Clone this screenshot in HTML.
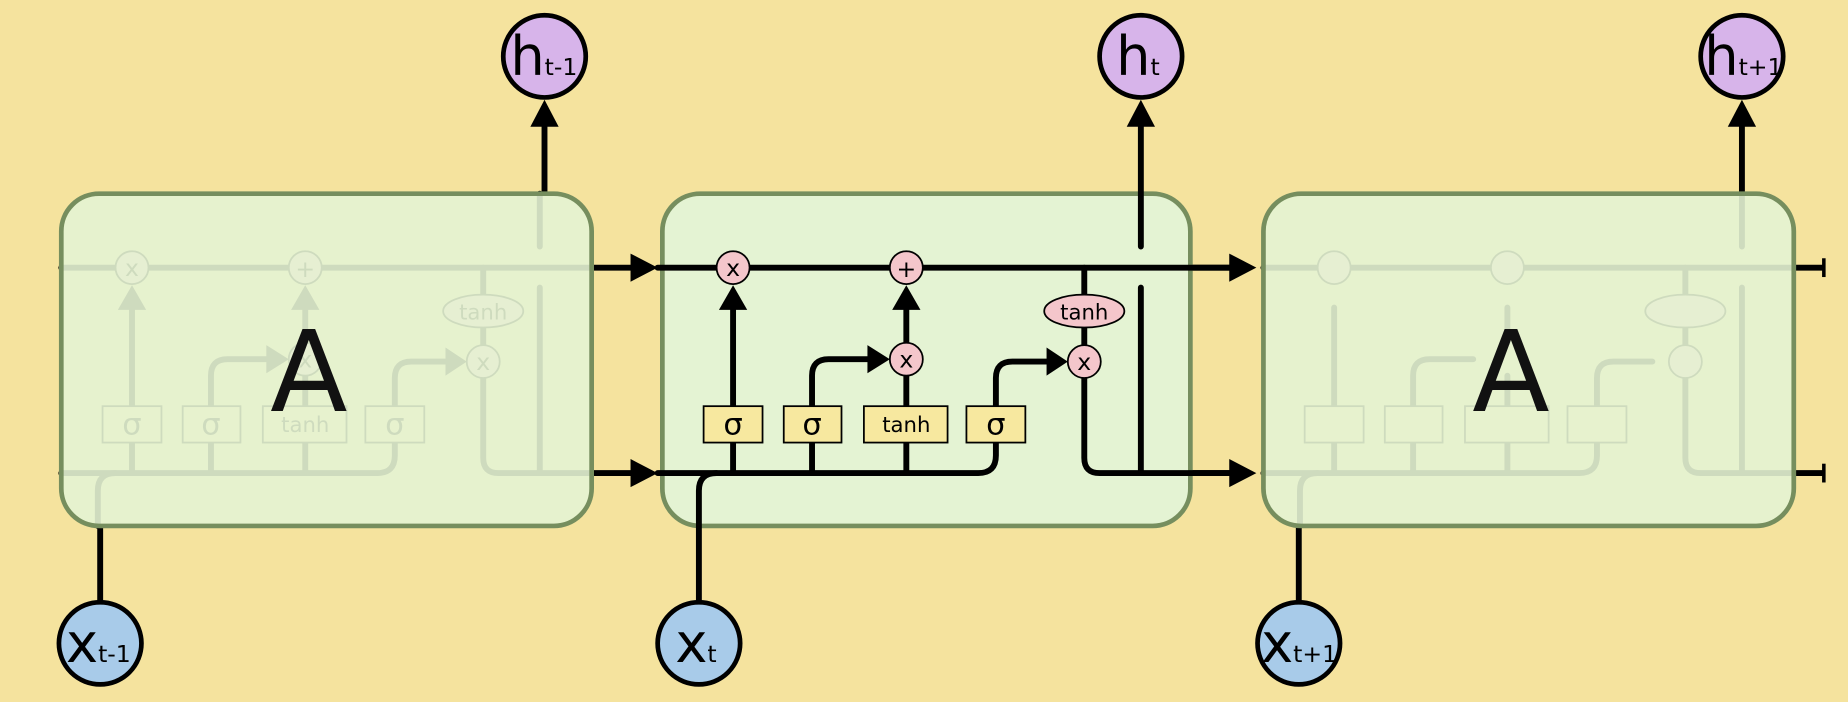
<!DOCTYPE html>
<html><head><meta charset="utf-8"><style>
html,body{margin:0;padding:0;background:#f5e39e;}
svg{display:block;}
text{font-family:"DejaVu Sans","Liberation Sans",sans-serif;}
</style></head><body>
<svg width="1848" height="702" viewBox="0 0 1568 598" preserveAspectRatio="none" xmlns="http://www.w3.org/2000/svg">
<rect x="0" y="0" width="1568" height="598" fill="#f5e39e"/>

<!-- main black lines between cells -->
<g stroke="#000" stroke-width="5" fill="none">
  <line x1="502" y1="228" x2="540" y2="228"/>
  <line x1="502" y1="403" x2="540" y2="403"/>
  <line x1="1010" y1="228" x2="1048" y2="228"/>
  <line x1="1010" y1="403" x2="1048" y2="403"/>
  <line x1="1522" y1="228" x2="1548" y2="228"/>
  <line x1="1522" y1="403" x2="1548" y2="403"/>
  <line x1="462" y1="165" x2="462" y2="105"/>
  <line x1="1478" y1="165" x2="1478" y2="105"/>
  <line x1="85" y1="513" x2="85" y2="448"/>
  <line x1="1102" y1="513" x2="1102" y2="448"/>
</g>
<g fill="#000">
  <polygon points="535,216 558,228 535,240"/>
  <polygon points="535,391 558,403 535,415"/>
  <polygon points="1043,216 1066,228 1043,240"/>
  <polygon points="1043,391 1066,403 1043,415"/>
  <polygon points="450,108 462,85 474,108"/>
  <polygon points="1466,108 1478,85 1490,108"/>
  <rect x="1546" y="220" width="3" height="16"/>
  <rect x="1546" y="395" width="3" height="16"/>
</g>

<!-- faded internals left & right (drawn under semi-opaque boxes) -->
<g id="inner-left" transform="translate(-510,0)">
  <g stroke="#000" stroke-width="5" fill="none" stroke-linecap="round">
    <line x1="562" y1="228" x2="1010" y2="228"/>
    <path d="M562 403 H830 Q845 403 845 388 V377"/>
    <line x1="622" y1="403" x2="622" y2="377"/><line x1="622" y1="346" x2="622" y2="262"/>
    <path d="M689 403 V377 M689 346 V320 Q689 306 703 306 H740"/>
    <path d="M769 403 V377 M769 346 V320 M769 292 V262"/>
    <path d="M845 346 V322 Q845 308 859 308 H892"/>
    <path d="M920 228 V251 M920 279 V294 M920 322 V390 Q920 403 933 403 H1010"/>
    <path d="M968 403 V245 M968 210 V165"/>
    <path d="M608 403 Q593 403 593 418 V448"/>
  </g>
  <g fill="#000">
    <polygon points="610,264 622,243 634,264"/>
    <polygon points="757,264 769,243 781,264"/>
    <polygon points="736,294 755,306 736,318"/>
    <polygon points="888,296 906,308 888,320"/>
  </g>
  <g stroke="#000" stroke-width="1.5">
    <circle cx="622" cy="228" r="14" fill="#f4c6cb"/>
    <circle cx="769" cy="228" r="14" fill="#f4c6cb"/>
    <circle cx="769" cy="306" r="14" fill="#f4c6cb"/>
    <circle cx="920" cy="308" r="14" fill="#f4c6cb"/>
    <ellipse cx="920" cy="265" rx="34" ry="14" fill="#f4c6cb"/>
    <rect x="597" y="346" width="50" height="31" fill="#f7e89f"/>
    <rect x="665" y="346" width="49" height="31" fill="#f7e89f"/>
    <rect x="733" y="346" width="71" height="31" fill="#f7e89f"/>
    <rect x="820" y="346" width="50" height="31" fill="#f7e89f"/>
  </g>
  <g font-size="20" text-anchor="middle" fill="#000">
    <text x="622" y="235">x</text><text x="769" y="236">+</text>
    <text x="769" y="313">x</text><text x="920" y="315">x</text>
    <text x="920" y="272" font-size="18">tanh</text>
    <text x="622" y="370" font-size="26">σ</text><text x="689" y="370" font-size="26">σ</text>
    <text x="769" y="368" font-size="18">tanh</text><text x="845" y="370" font-size="26">σ</text>
  </g>
</g>
<g transform="translate(1020,0)">
  <g stroke="#000" stroke-width="5" fill="none" stroke-linecap="round">
    <line x1="52" y1="228" x2="500" y2="228"/>
    <path d="M52 403 H320 Q335 403 335 388 V377"/>
    <line x1="112" y1="403" x2="112" y2="377"/><line x1="112" y1="346" x2="112" y2="262"/>
    <path d="M179 403 V377 M179 346 V320 Q179 306 193 306 H230"/>
    <path d="M259 403 V377 M259 346 V320 M259 292 V262"/>
    <path d="M335 346 V322 Q335 308 349 308 H382"/>
    <path d="M410 228 V251 M410 279 V294 M410 322 V390 Q410 403 423 403 H500"/>
    <path d="M458 403 V245 M458 210 V165"/>
    <path d="M98 403 Q83 403 83 418 V448"/>
  </g>
  <g stroke="#000" stroke-width="1.5">
    <circle cx="112" cy="228" r="14" fill="#f4c6cb"/><circle cx="259" cy="228" r="14" fill="#f4c6cb"/>
    <circle cx="410" cy="308" r="14" fill="#f4c6cb"/><ellipse cx="410" cy="265" rx="34" ry="14" fill="#f4c6cb"/>
    <rect x="87" y="346" width="50" height="31" fill="#f7e89f"/><rect x="155" y="346" width="49" height="31" fill="#f7e89f"/>
    <rect x="223" y="346" width="71" height="31" fill="#f7e89f"/><rect x="310" y="346" width="50" height="31" fill="#f7e89f"/>
  </g>
</g>

<!-- cell boxes -->
<rect x="52" y="165" width="450" height="283" rx="32" fill="#e4f3d3" fill-opacity="0.9" stroke="#768e5e" stroke-width="4"/>
<rect x="1072" y="165" width="450" height="283" rx="32" fill="#e4f3d3" fill-opacity="0.9" stroke="#768e5e" stroke-width="4"/>
<rect x="562" y="165" width="448" height="283" rx="32" fill="#e4f3d3" stroke="#768e5e" stroke-width="4"/>

<text x="262" y="350" font-size="96" text-anchor="middle" fill="#111">A</text>
<text x="1282" y="350" font-size="96" text-anchor="middle" fill="#111">A</text>

<!-- middle internals -->
<g stroke="#000" stroke-width="5" fill="none" stroke-linecap="round">
  <line x1="558" y1="228" x2="1045" y2="228"/>
  <path d="M558 403 H830 Q845 403 845 388 V377"/>
  <line x1="622" y1="403" x2="622" y2="377"/><line x1="622" y1="346" x2="622" y2="262"/>
  <path d="M689 403 V377 M689 346 V320 Q689 306 703 306 H740"/>
  <path d="M769 403 V377 M769 346 V320 M769 292 V262"/>
  <path d="M845 346 V322 Q845 308 859 308 H892"/>
  <path d="M920 228 V251 M920 279 V294 M920 322 V390 Q920 403 933 403 H1045"/>
  <path d="M968 403 V245 M968 210 V105"/>
  <path d="M608 403 Q593 403 593 418 V513"/>
</g>
<g fill="#000">
  <polygon points="610,264 622,243 634,264"/>
  <polygon points="757,264 769,243 781,264"/>
  <polygon points="736,294 755,306 736,318"/>
  <polygon points="888,296 906,308 888,320"/>
  <polygon points="956,108 968,85 980,108"/>
</g>
<g stroke="#000" stroke-width="1.5">
  <circle cx="622" cy="228" r="14" fill="#f4c6cb"/>
  <circle cx="769" cy="228" r="14" fill="#f4c6cb"/>
  <circle cx="769" cy="306" r="14" fill="#f4c6cb"/>
  <circle cx="920" cy="308" r="14" fill="#f4c6cb"/>
  <ellipse cx="920" cy="265" rx="34" ry="14" fill="#f4c6cb"/>
  <rect x="597" y="346" width="50" height="31" fill="#f7e89f"/>
  <rect x="665" y="346" width="49" height="31" fill="#f7e89f"/>
  <rect x="733" y="346" width="71" height="31" fill="#f7e89f"/>
  <rect x="820" y="346" width="50" height="31" fill="#f7e89f"/>
</g>
<g font-size="20" text-anchor="middle" fill="#000">
  <text x="622" y="235">x</text><text x="769" y="236">+</text>
  <text x="769" y="313">x</text><text x="920" y="315">x</text>
  <text x="920" y="272" font-size="18">tanh</text>
  <text x="622" y="370" font-size="26">σ</text><text x="689" y="370" font-size="26">σ</text>
  <text x="769" y="368" font-size="18">tanh</text><text x="845" y="370" font-size="26">σ</text>
</g>

<!-- h and x circles -->
<g stroke="#000" stroke-width="4">
  <circle cx="462" cy="48" r="35" fill="#d7b4ea"/>
  <circle cx="968" cy="48" r="35" fill="#d7b4ea"/>
  <circle cx="1478" cy="48" r="35" fill="#d7b4ea"/>
  <circle cx="85" cy="548" r="35" fill="#a8cbe9"/>
  <circle cx="593" cy="548" r="35" fill="#a8cbe9"/>
  <circle cx="1102" cy="548" r="35" fill="#a8cbe9"/>
</g>
<g fill="#000">
  <text x="433" y="64" font-size="46">h<tspan font-size="20">t-1</tspan></text>
  <text x="947" y="64" font-size="46">h<tspan font-size="20">t</tspan></text>
  <text x="1446" y="64" font-size="46">h<tspan font-size="20">t+1</tspan></text>
  <text x="56" y="564" font-size="46">x<tspan font-size="20">t-1</tspan></text>
  <text x="573" y="564" font-size="46">x<tspan font-size="20">t</tspan></text>
  <text x="1070" y="564" font-size="46">x<tspan font-size="20">t+1</tspan></text>
</g>
</svg>
</body></html>
